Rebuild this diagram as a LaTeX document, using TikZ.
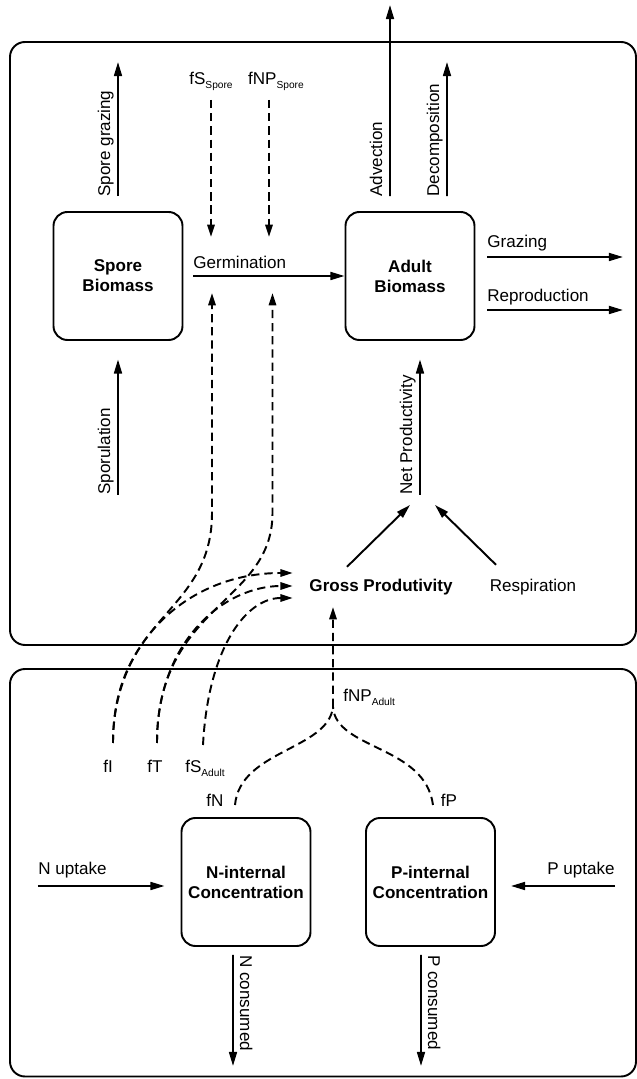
\documentclass[tikz,border=0pt]{standalone}
\usepackage{fontspec}
\setmainfont{Liberation Sans}
\usetikzlibrary{arrows.meta}
\newcommand{\subtxt}[1]{\raisebox{-2pt}{\fontsize{5.8}{7}\selectfont #1}}

\begin{document}
\begin{tikzpicture}[
      font=\fontsize{9.7}{11.4}\selectfont,
      pool/.style={rectangle, rounded corners=0.28cm, draw, line width=1.1pt, minimum width=2.58cm, minimum height=2.56cm, align=center, font=\fontsize{9.7}{11.4}\selectfont\bfseries},
      region/.style={draw, line width=1.1pt, rounded corners=0.3cm},
      arr/.style={-{Triangle[length=8pt, width=4.5pt]}, line width=1.1pt},
      dline/.style={line width=1.1pt, dash pattern=on 4.7pt off 2.8pt},
      darr/.style={dline, -{Triangle[length=7pt, width=4.2pt]}},
      lbl/.style={inner sep=0pt, anchor=base},
      uplbl/.style={inner sep=0pt, rotate=90, anchor=base west},
      downlbl/.style={inner sep=0pt, rotate=-90, anchor=base west}
    ]
      \useasboundingbox (0,0) rectangle (12.74,21.58);

      % Regions
      \draw[region] (0.2,8.68) rectangle (12.72,20.74);
      \draw[region] (0.2,0.05) rectangle (12.72,8.2);

      % Pools
      \node[pool] (spore) at (2.36,16.06) {Spore\\Biomass};
      \node[pool] (adult) at (8.2,16.06) {Adult\\Biomass};
      \node[pool] (nint) at (4.92,3.94) {N-internal\\Concentration};
      \node[pool] (pint) at (8.61,3.94) {P-internal\\Concentration};

      % Productivity
      \node[lbl, font=\fontsize{9.7}{11.4}\selectfont\bfseries] (gross) at (7.62,9.74) {Gross Produtivity};
      \node[lbl] (resp) at (10.66,9.74) {Respiration};

      % Limitation factors
      \node[lbl] (fsspore) at (4.22,19.88) {fS\subtxt{Spore}};
      \node[lbl] (fnpspore) at (5.52,19.88) {fNP\subtxt{Spore}};
      \node[lbl] (fi) at (2.16,6.12) {fI};
      \node[lbl] (ft) at (3.1,6.12) {fT};
      \node[lbl] (fsadult) at (4.1,6.12) {fS\subtxt{Adult}};
      \node[lbl] (fn) at (4.3,5.44) {fN};
      \node[lbl] (fp) at (8.98,5.44) {fP};
      \node[lbl, anchor=base west] (fnpadult) at (6.86,7.54) {fNP\subtxt{Adult}};

      % Free ends
      \coordinate (sgtip) at (2.36,20.34);
      \coordinate (spbase) at (2.36,11.68);
      \coordinate (advtip) at (7.8,21.48);
      \coordinate (dectip) at (8.94,20.34);
      \coordinate (graztip) at (12.46,16.44);
      \coordinate (reprtip) at (12.46,15.38);
      \coordinate (netbase) at (8.4,11.68);
      \coordinate (nupstart) at (0.76,3.86);
      \coordinate (pupstart) at (12.3,3.86);
      \coordinate (ncontip) at (4.66,0.26);
      \coordinate (pcontip) at (8.42,0.26);
      \coordinate (gin1) at (4.24,15.72);
      \coordinate (gin2) at (5.45,15.72);
      \coordinate (gout1) at (4.22,16.84);
      \coordinate (gout2) at (5.38,16.84);
      \coordinate (gpin1) at ([xshift=-0.33cm,yshift=0.38cm]gross.base west);
      \coordinate (gpin2) at ([xshift=-0.33cm,yshift=0.12cm]gross.base west);
      \coordinate (gpin3) at ([xshift=-0.33cm,yshift=-0.12cm]gross.base west);
      \coordinate (fiup) at ([xshift=0.1cm,yshift=0.6cm]fi.base);
      \coordinate (ftup) at ([xshift=0.04cm,yshift=0.6cm]ft.base);
      \coordinate (fsaup) at ([xshift=-0.04cm,yshift=0.56cm]fsadult.base);
      \coordinate (fnup) at ([xshift=0.4cm,yshift=0.04cm]fn.base);
      \coordinate (fpup) at ([xshift=-0.32cm,yshift=0.04cm]fp.base);
      \coordinate (fork) at (6.66,7.44);

      % Spore fluxes
      \draw[arr] ([yshift=0.3cm]spore.north) -- (sgtip);
      \node[uplbl] (lsg) at (2.2,17.64) {Spore grazing};
      \draw[arr] (spbase) -- ([yshift=-0.37cm]spore.south);
      \node[uplbl] (lsp) at (2.2,11.68) {Sporulation};
      \draw[arr] ([xshift=0.2cm]spore.east) -- (adult.west);
      \node[lbl, anchor=base west] (lgerm) at (3.86,16.2) {Germination};

      % Adult fluxes
      \draw[arr] ([xshift=-0.4cm,yshift=0.3cm]adult.north) -- (advtip);
      \node[uplbl] (ladv) at (7.64,17.64) {Advection};
      \draw[arr] ([xshift=0.74cm,yshift=0.3cm]adult.north) -- (dectip);
      \node[uplbl] (ldec) at (8.78,17.64) {Decomposition};
      \draw[arr] ([xshift=0.24cm,yshift=0.38cm]adult.east) -- (graztip);
      \node[lbl, anchor=base west] (lgraz) at (9.74,16.62) {Grazing};
      \draw[arr] ([xshift=0.24cm,yshift=-0.68cm]adult.east) -- (reprtip);
      \node[lbl, anchor=base west] (lrepr) at (9.74,15.54) {Reproduction};
      \draw[arr] (netbase) -- ([xshift=0.2cm,yshift=-0.37cm]adult.south);
      \node[uplbl] (lnet) at (8.24,11.68) {Net Productivity};
      \draw[arr] ([xshift=-0.68cm,yshift=0.25cm]gross.north) -- ([xshift=-0.2cm,yshift=-0.2cm]netbase);
      \draw[arr] ([xshift=-0.74cm,yshift=0.29cm]resp.north) -- ([xshift=0.3cm,yshift=-0.2cm]netbase);

      % Factor paths
      \draw[darr] ([yshift=-0.3cm]fsspore.base) -- (gout1);
      \draw[darr] ([xshift=-0.14cm,yshift=-0.3cm]fnpspore.base) -- (gout2);
      \draw[darr] (fiup) .. controls (2.26,9.28) and (4.24,9.28) .. (4.24,11.32) -- (gin1);
      \draw[darr] (ftup) .. controls (3.14,9.5) and (5.45,9.5) .. (5.45,11.32) -- (gin2);
      \draw[darr] (fiup) .. controls (2.26,8.78) and (3.8,10.12) .. (gpin1);
      \draw[darr] (ftup) .. controls (3.14,8.78) and (4.5,9.86) .. (gpin2);
      \draw[darr] (fsaup) .. controls (4.16,8.58) and (4.9,9.62) .. (gpin3);
      \draw[dline] (fnup) .. controls (4.8,6.58) and (6.56,6.58) .. (fork);
      \draw[dline] (fpup) .. controls (8.5,6.68) and (6.72,6.58) .. (fork);
      \draw[darr] (fork) -- ([xshift=-0.96cm,yshift=-0.3cm]gross.base);

      % Internal nutrient fluxes
      \draw[arr] (nupstart) -- ([xshift=-0.32cm,yshift=-0.08cm]nint.west);
      \node[lbl, anchor=base west] (lnup) at (0.76,4.08) {N uptake};
      \draw[arr] (pupstart) -- ([xshift=0.3cm,yshift=-0.08cm]pint.east);
      \node[lbl, anchor=base east] (lpup) at (12.3,4.08) {P uptake};
      \draw[arr] ([xshift=-0.26cm,yshift=-0.16cm]nint.south) -- (ncontip);
      \node[downlbl] (lncon) at (4.8,2.48) {N consumed};
      \draw[arr] ([xshift=-0.19cm,yshift=-0.16cm]pint.south) -- (pcontip);
      \node[downlbl] (lpcon) at (8.56,2.48) {P consumed};
    \end{tikzpicture}
\end{document}
